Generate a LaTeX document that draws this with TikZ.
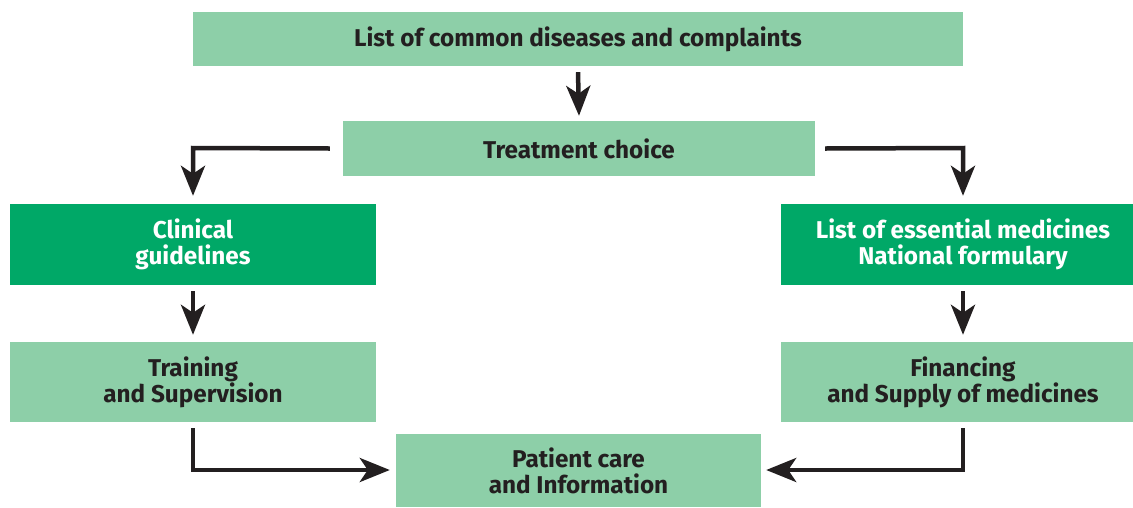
\documentclass[tikz,border=0pt]{standalone}
\usepackage{fontspec}
\setmainfont{Fira Sans}
\usetikzlibrary{arrows.meta}
\definecolor{lightg}{HTML}{8DCFA8}
\definecolor{darkg}{HTML}{00A867}
\definecolor{ink}{HTML}{231F20}
\begin{document}
\begin{tikzpicture}[x=1pt,y=-1pt,
  box/.style={draw=none,inner sep=0pt,align=center,font=\fontsize{24.3}{26}\selectfont\bfseries},
  lbox/.style={box,fill=lightg,text=ink},
  dbox/.style={box,fill=darkg,text=white},
  arr/.style={draw=ink,line width=4.5pt,-{Stealth[length=30pt,width=24pt,inset=8pt]}}]
\useasboundingbox (0,0) rectangle (1133,507);
\path[fill=white] (0,0) rectangle (1133,507);
\node[lbox,minimum width=770pt,minimum height=54pt] (top) at (578,39) {List of common diseases and complaints};
\node[lbox,minimum width=472pt,minimum height=55pt] (treat) at (579,148.5) {Treatment choice};
\node[dbox,minimum width=366pt,minimum height=81pt] (clin) at (193,244.5) {Clinical\\guidelines};
\node[dbox,minimum width=364pt,minimum height=81pt] (ess) at (963,244.5) {List of essential medicines\\National formulary};
\node[lbox,minimum width=366pt,minimum height=80pt] (train) at (193,382) {Training\\and Supervision};
\node[lbox,minimum width=364pt,minimum height=80pt] (fin) at (963,382) {Financing\\and Supply of medicines};
\node[lbox,minimum width=365pt,minimum height=73pt] (pat) at (578.5,470.5) {Patient care\\and Information};
\coordinate (tl) at (193,148);
\coordinate (tr) at (963,148);
\coordinate (bl) at (193,470);
\coordinate (br) at (963,470);
\draw[arr] ([yshift=-6pt]top.south) -- ([yshift=5pt]treat.north);
\draw[arr] ([xshift=-13pt]treat.west) -- (tl) -- ([yshift=8pt]clin.north -| tl);
\draw[arr] ([xshift=10pt]treat.east) -- (tr) -- ([yshift=8pt]ess.north -| tr);
\draw[arr] ([yshift=-6pt]clin.south) -- ([yshift=7pt]train.north);
\draw[arr] ([yshift=-6pt]ess.south) -- ([yshift=7pt]fin.north);
\draw[arr] ([yshift=-6pt]train.south) -- (bl) -- ([xshift=-6pt]pat.west |- bl);
\draw[arr] ([yshift=-6pt]fin.south) -- (br) -- ([xshift=5pt]pat.east |- br);
\end{tikzpicture}
\end{document}
